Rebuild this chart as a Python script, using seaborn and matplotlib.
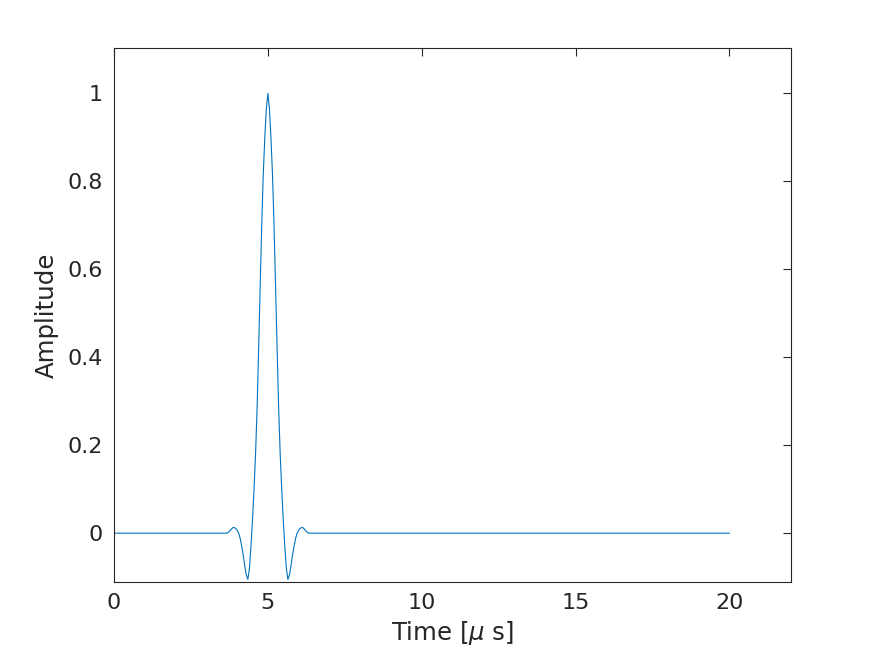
import matplotlib
matplotlib.use("Agg")
import matplotlib.pyplot as plt
import seaborn as sns
import pandas as pd

# pulse (time in microseconds)
time_us = [0.0, 3.0, 3.6, 3.65, 3.7, 3.75, 3.8, 3.85, 3.9, 3.95, 4.0, 4.05, 4.1,
           4.15, 4.2, 4.25, 4.3, 4.35, 4.4, 4.45, 4.5, 4.55, 4.6, 4.65, 4.7,
           4.75, 4.8, 4.85, 4.9, 4.95, 5.0, 5.05, 5.1, 5.15, 5.2, 5.25, 5.3,
           5.35, 5.4, 5.45, 5.5, 5.55, 5.6, 5.65, 5.7, 5.75, 5.8, 5.85, 5.9,
           5.95, 6.0, 6.05, 6.1, 6.15, 6.2, 6.25, 6.3, 6.35, 6.4, 7.0, 20.0]
amplitude = [0.0, 0.0, 0.0, 0.0, 0.001, 0.004, 0.008, 0.012, 0.013, 0.011, 0.007,
             0.0, -0.012, -0.03, -0.05, -0.075, -0.095, -0.105, -0.08, -0.03,
             0.03, 0.10, 0.18, 0.285, 0.42, 0.56, 0.70, 0.815, 0.90, 0.965, 1.0,
             0.965, 0.90, 0.815, 0.70, 0.56, 0.42, 0.285, 0.18, 0.10, 0.03,
             -0.03, -0.08, -0.105, -0.095, -0.075, -0.05, -0.03, -0.012, 0.0,
             0.007, 0.011, 0.013, 0.012, 0.008, 0.004, 0.001, 0.0, 0.0, 0.0, 0.0]
xtick_vals = [0, 5, 10, 15, 20]
ytick_vals = [0, 0.2, 0.4, 0.6, 0.8, 1]

df = pd.DataFrame({"t": time_us, "a": amplitude})

sns.set_style("white")
plt.rcParams["font.family"] = ["DejaVu Sans"]

fig = plt.figure(figsize=(8.75, 6.56), dpi=100)
ax = fig.add_axes([0.1303, 0.1128, 0.904 - 0.1303, 0.9268 - 0.1128])
sns.lineplot(data=df, x="t", y="a", color="#0072BD", linewidth=0.8, ax=ax)

ax.set_xlim(0, 22)
ax.set_ylim(-0.111, 1.103)
ax.set_xticks(xtick_vals)
ax.set_xticklabels([str(v) for v in xtick_vals])
ax.set_yticks(ytick_vals)
ax.set_yticklabels(["0", "0.2", "0.4", "0.6", "0.8", "1"])
ax.set_xlabel(r"Time [$\mu$ s]", fontsize=17.6, color="#262626", labelpad=4)
ax.set_ylabel("Amplitude", fontsize=17.6, color="#262626", labelpad=6)
ax.tick_params(direction="in", length=6, width=0.8, colors="#262626",
               labelsize=16, top=True, right=True, pad=8)
for s in ax.spines.values():
    s.set_color("#262626")
    s.set_linewidth(0.8)
    s.set_visible(True)

fig.savefig("out.png", dpi=100)
